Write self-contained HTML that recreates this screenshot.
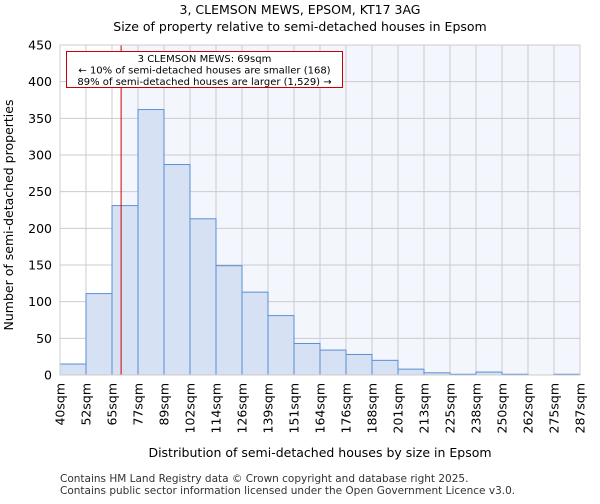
<!DOCTYPE html>
<html><head><meta charset="utf-8"><style>
body{margin:0;background:#fff;font-family:"DejaVu Sans","Liberation Sans",sans-serif;}
</style></head><body>
<svg width="600" height="500" xmlns="http://www.w3.org/2000/svg" font-family="DejaVu Sans, Liberation Sans, sans-serif">
<text x="300" y="14" text-anchor="middle" font-size="12.5">3, CLEMSON MEWS, EPSOM, KT17 3AG</text>
<text x="300" y="31" text-anchor="middle" font-size="12.5">Size of property relative to semi-detached houses in Epsom</text>
<g id="plot"></g>
<text transform="translate(13,215) rotate(-90)" text-anchor="middle" font-size="12.5">Number of semi-detached properties</text>
<text x="320" y="457" text-anchor="middle" font-size="12.5">Distribution of semi-detached houses by size in Epsom</text>
<text x="60" y="482" font-size="10.5" fill="#333">Contains HM Land Registry data © Crown copyright and database right 2025.</text>
<text x="60" y="494" font-size="10.5" fill="#333">Contains public sector information licensed under the Open Government Licence v3.0.</text>
</svg>
<script>
const categories=["40sqm","52sqm","65sqm","77sqm","89sqm","102sqm","114sqm","126sqm","139sqm","151sqm","164sqm","176sqm","188sqm","201sqm","213sqm","225sqm","238sqm","250sqm","262sqm","275sqm","287sqm"];
const values=[15,111,231,362,287,213,149,113,81,43,34,28,20,8,3,1,4,1,0,1];
const yTicks=[0,50,100,150,200,250,300,350,400,450];
const propertyBin=2.35;
const ns="http://www.w3.org/2000/svg";
const g=document.getElementById('plot');
const X0=60,X1=580,Y0=375,Y1=45,yMax=450;
const bw=(X1-X0)/values.length;
const xs=i=>X0+i*bw;
const ys=v=>Y0-(v/yMax)*(Y0-Y1);
function el(t,a){const e=document.createElementNS(ns,t);for(const k in a)e.setAttribute(k,a[k]);g.appendChild(e);return e;}
const px=xs(propertyBin);
let r=el('rect',{x:X0,y:Y1,width:px-X0,height:Y0-Y1,fill:'#ffffff'});


r=el('rect',{x:px,y:Y1,width:X1-px,height:Y0-Y1,fill:'#f3f6fd'});


yTicks.forEach(t=>{
 let l=el('line',{x1:X0,x2:X1,y1:ys(t),y2:ys(t),stroke:'#cccccc','stroke-width':1});
 
 
 let tx=el('text',{x:X0-8,y:ys(t)+4.5,'text-anchor':'end','font-size':'12.5'});
 tx.textContent=t;
 
 
});
categories.forEach((c,i)=>{
 let l=el('line',{x1:xs(i),x2:xs(i),y1:Y1,y2:Y0,stroke:'#cccccc','stroke-width':1});
 
 
 let tx=el('text',{transform:`translate(${xs(i)+4.5},${Y0+8}) rotate(-90)`,'text-anchor':'end','font-size':'12.5'});
 tx.textContent=c;
 
 
});
values.forEach((v,i)=>{
 let b=el('rect',{x:xs(i),y:ys(v),width:bw,height:Y0-ys(v),fill:'#d6e2f3',stroke:'#5b8ed4','stroke-width':1});
 
 
});
let ln=el('line',{x1:px,x2:px,y1:Y1,y2:Y0,stroke:'#cc0000','stroke-width':1});


let box=el('rect',{x:66.5,y:51.5,width:276,height:36,fill:'#fff',stroke:'#cc0000','stroke-width':1});


["3 CLEMSON MEWS: 69sqm","← 10% of semi-detached houses are smaller (168)","89% of semi-detached houses are larger (1,529) →"].forEach((s,i)=>{
 let t=el('text',{x:204.5,y:62+i*11.5,'text-anchor':'middle','font-size':'10'});
 t.textContent=s;
 
 
});
let ax=el('rect',{x:X0,y:Y1,width:X1-X0,height:Y0-Y1,fill:'none',stroke:'#cccccc','stroke-width':1});


</script>
</body></html>
